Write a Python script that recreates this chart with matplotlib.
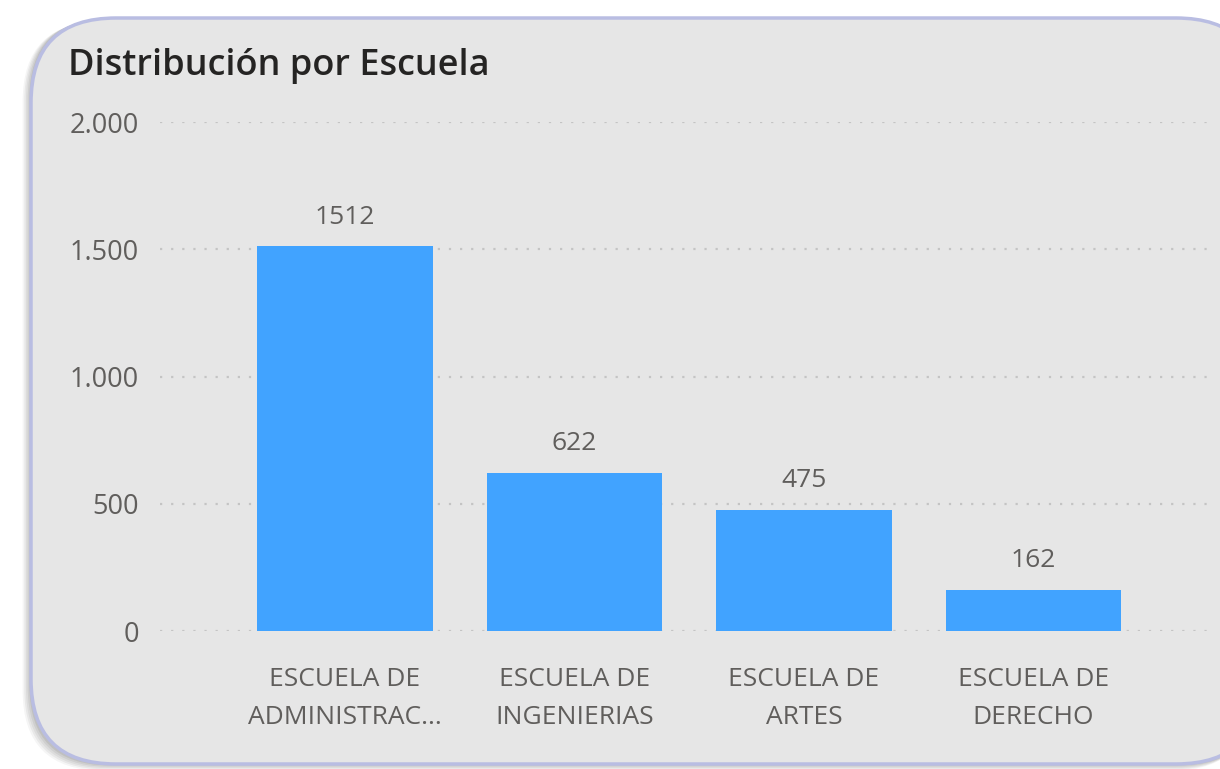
import matplotlib
matplotlib.use("Agg")
import matplotlib.pyplot as plt
from matplotlib.patches import FancyBboxPatch
import numpy as np

categories = ["ESCUELA DE\nADMINISTRAC...", "ESCUELA DE\nINGENIERIAS", "ESCUELA DE\nARTES", "ESCUELA DE\nDERECHO"]
values = [1512, 622, 475, 162]
yticks = [0, 500, 1000, 1500, 2000]
ytick_labels = ["0", "500", "1.000", "1.500", "2.000"]
title = "Distribución por Escuela"

plt.rcParams['font.family'] = ['Open Sans', 'DejaVu Sans']

W, H = 1220, 769
fig = plt.figure(figsize=(W / 100, H / 100), dpi=100, facecolor="white")

# background panel in pixel coordinates
bg = fig.add_axes([0, 0, 1, 1])
bg.set_xlim(0, W)
bg.set_ylim(H, 0)
bg.axis("off")
# shadow
for i, a in enumerate([0.04, 0.05, 0.05, 0.06, 0.07]):
    off = 12 - 2.4 * i
    sh = FancyBboxPatch((31 - off * 0.7, 18 + off * 0.3), 1230, 746 + off * 0.25,
                        boxstyle="round,pad=0,rounding_size=80",
                        facecolor="black", edgecolor="none", alpha=a)
    bg.add_patch(sh)
panel = FancyBboxPatch((31, 18), 1230, 746,
                       boxstyle="round,pad=0,rounding_size=85",
                       facecolor="#e6e6e6", edgecolor="#b9bde2", linewidth=2.5)
bg.add_patch(panel)

fig.text(68 / W, 1 - 66 / H, title, fontsize=26, fontweight="semibold",
         color="#252423", ha="left", va="center")

ax = fig.add_axes([160 / W, 1 - 631 / H, (1215 - 160) / W, (631 - 122) / H])
ax.patch.set_alpha(0)
x = np.arange(len(categories))
bars = ax.bar(x, values, width=0.765, color="#41a3ff", zorder=3)
ax.set_xlim(-0.805, 3.79)
ax.set_ylim(0, 2000)
ax.set_yticks(yticks)
ax.set_yticklabels(ytick_labels)
ax.set_xticks(x)
ax.set_xticklabels(categories, linespacing=1.7)
for s in ax.spines.values():
    s.set_visible(False)
ax.tick_params(axis="y", length=0, pad=15, labelsize=19.5, labelcolor="#605e5c")
ax.tick_params(axis="x", length=0, pad=26, labelsize=19, labelcolor="#605e5c")
ax.yaxis.grid(True, color="#c4c4c4", linestyle=(0, (1, 4)), linewidth=1.6, zorder=0)
ax.xaxis.grid(False)

for b, v in zip(bars, values):
    ax.annotate(str(v), (b.get_x() + b.get_width() / 2, v), xytext=(0, 12),
                textcoords="offset points", ha="center", va="bottom",
                fontsize=19, color="#605e5c")

fig.savefig("out.png", dpi=100, facecolor="white")
